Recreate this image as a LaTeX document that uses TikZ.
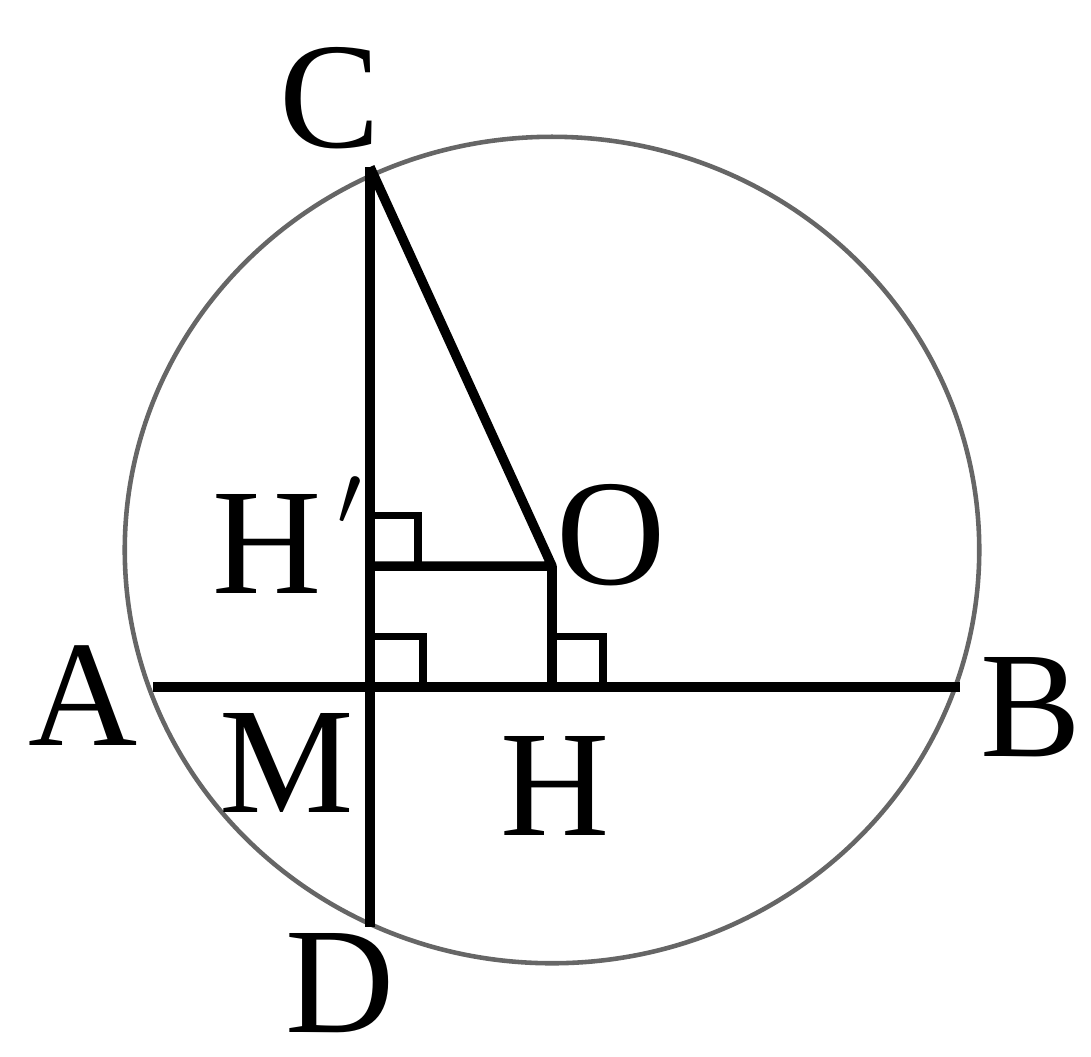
\documentclass[tikz,border=0pt]{standalone}
\usepackage{fontspec}
\setmainfont{Liberation Serif}
\begin{document}
\begin{tikzpicture}[x=0.01cm, y=-0.01cm,
    seg/.style={line width=2.7pt},
    rightmark/.style={line width=2pt},
    ptlabel/.style={font=\fontsize{43}{50}\selectfont, inner sep=0pt, anchor=base}]
  \useasboundingbox (0,0) rectangle (1091,1056);

  % Points of the figure
  \coordinate (C) at (370,167);
  \coordinate (D) at (370,927);
  \coordinate (A) at (153,687);
  \coordinate (B) at (960,687);
  \coordinate (M) at (370,687);
  \coordinate (H) at (552,687);
  \coordinate (Hp) at (370,566);
  \coordinate (O) at (552,566);

  % Circle
  \draw[black!60, line width=1.3pt] (552,550) ellipse [x radius=4.27cm, y radius=4.13cm];

  % Chords and segments
  \draw[seg] (C) -- (D);
  \draw[seg] (A) -- (B);
  \draw[seg, line join=round] (C) -- (O) -- (Hp);
  \draw[seg] (O) -- (H);

  % Right angle marks
  \draw[rightmark] (Hp) ++(0,-51) -- ++(48,0) -- ++(0,51);
  \draw[rightmark] (M) ++(0,-51) -- ++(53,0) -- ++(0,51);
  \draw[rightmark] (H) ++(0,-51) -- ++(51,0) -- ++(0,51);

  % Labels
  \node[ptlabel] (lC) at (330,147) {C};
  \node[ptlabel, anchor=base west] (lHp) at (212,593)
    {H\kern0.1em\raisebox{0.36cm}{$'$}};
  \node[ptlabel] (lO) at (611,584) {O};
  \node[ptlabel] (lA) at (83,745) {A};
  \node[ptlabel] (lM) at (287,812) {M};
  \node[ptlabel] (lB) at (1031,756) {B};
  \node[ptlabel] (lH) at (555,835) {H};
  \node[ptlabel] (lD) at (340,1032) {D};
\end{tikzpicture}
\end{document}
